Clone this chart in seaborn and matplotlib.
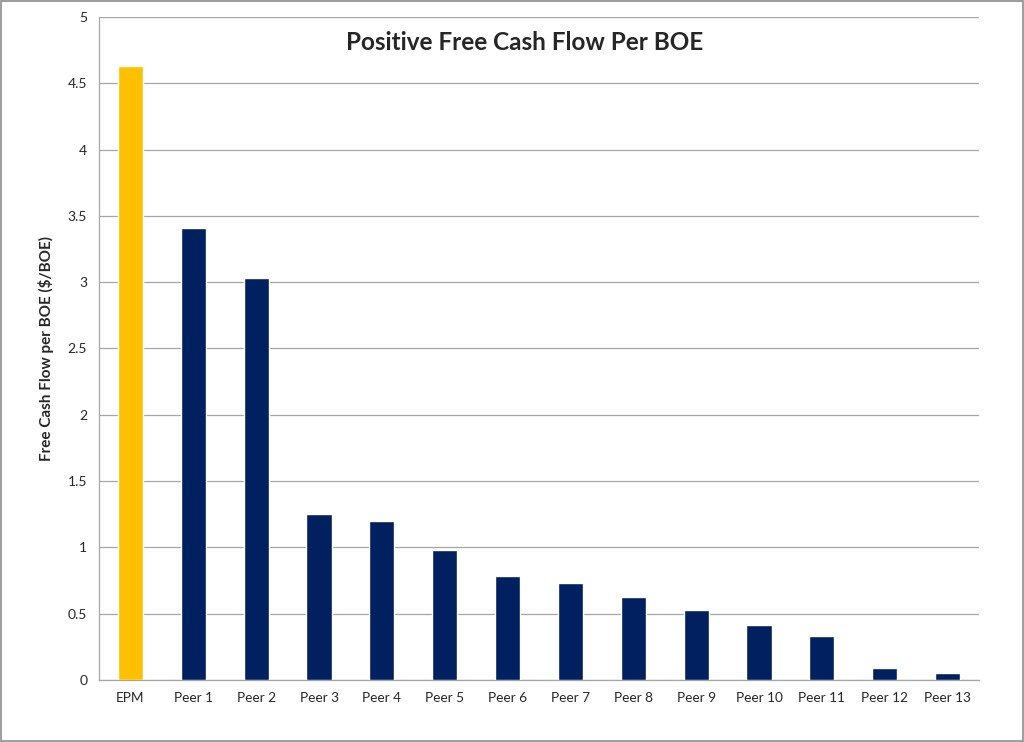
import pandas as pd
import matplotlib.pyplot as plt
import seaborn as sns
from matplotlib.patches import Rectangle

# --- Data ---
companies = ["EPM", "Peer 1", "Peer 2", "Peer 3", "Peer 4", "Peer 5", "Peer 6",
             "Peer 7", "Peer 8", "Peer 9", "Peer 10", "Peer 11", "Peer 12", "Peer 13"]
fcf_per_boe = [4.63, 3.41, 3.03, 1.25, 1.20, 0.98, 0.785, 0.73, 0.628, 0.525,
               0.417, 0.332, 0.09, 0.055]
bar_colors = ["#FFC000"] + ["#002060"] * 13

df = pd.DataFrame({"company": companies, "fcf": fcf_per_boe})

sns.set_style("white")
plt.rcParams["font.family"] = ["Lato", "DejaVu Sans"]

fig = plt.figure(figsize=(10.24, 7.42), dpi=100)
ax = fig.add_axes([0.0967, 0.0836, 0.8594, 0.8935])

sns.barplot(data=df, x="company", y="fcf", hue="company", palette=bar_colors,
            width=0.4, saturation=1, legend=False, ax=ax, zorder=3)

# --- Axes styling (Excel-like) ---
ax.set_ylim(0, 5)
ax.set_xlim(-0.5, len(companies) - 0.5)
ax.set_yticks([0, 0.5, 1, 1.5, 2, 2.5, 3, 3.5, 4, 4.5, 5])
ax.set_yticklabels(["0", "0.5", "1", "1.5", "2", "2.5", "3", "3.5", "4", "4.5", "5"])
ax.yaxis.grid(True, color="#a6a6a6", linewidth=0.9, zorder=0)
ax.set_axisbelow(True)

ax.set_xticks(range(len(companies)))
ax.set_xticks([i - 0.5 for i in range(len(companies) + 1)], minor=True)
ax.tick_params(axis="x", which="major", length=0, pad=9, labelsize=9.8, colors="#262626")
ax.tick_params(axis="x", which="minor", length=5, color="#a6a6a6", width=0.9)
ax.tick_params(axis="y", length=5, color="#a6a6a6", width=0.9, labelsize=10, colors="#262626")

for side in ["top", "right"]:
    ax.spines[side].set_visible(False)
for side in ["left", "bottom"]:
    ax.spines[side].set_color("#a6a6a6")
    ax.spines[side].set_linewidth(0.9)

ax.set_xlabel("")
ax.set_ylabel("Free Cash Flow per BOE (\\$/BOE)", fontsize=11, fontweight="bold", labelpad=10)
fig.text(525 / 1024, 1 - 42 / 742, "Positive Free Cash Flow Per BOE",
         fontsize=17.5, fontweight="bold", ha="center", va="center")

# outer chart border
fig.patches.append(Rectangle((0.001, 0.001), 0.998, 0.997, transform=fig.transFigure,
                             fill=False, edgecolor="#8c8c8c", linewidth=1.2))

plt.savefig("out.png", dpi=100)
